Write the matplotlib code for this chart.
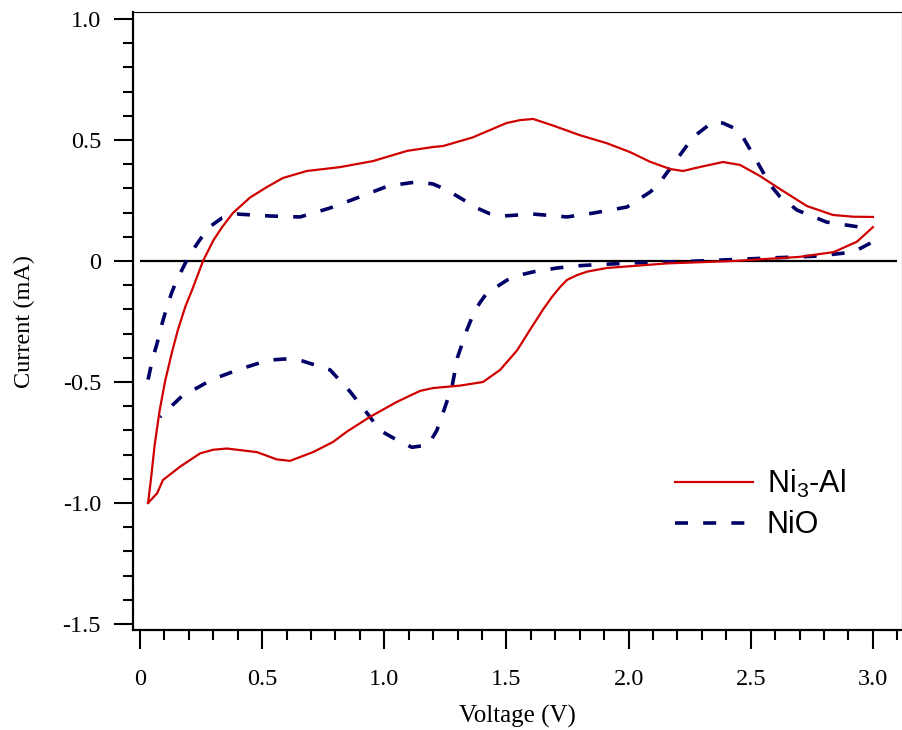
import matplotlib
matplotlib.use("Agg")
import matplotlib.pyplot as plt
from matplotlib.ticker import FixedLocator, FixedFormatter

plt.rcParams['font.family'] = ['Liberation Serif', 'DejaVu Serif']
plt.rcParams['mathtext.fontset'] = 'custom'
plt.rcParams['mathtext.rm'] = 'Liberation Sans'
plt.rcParams['mathtext.it'] = 'Liberation Sans'

# ==============================
# data (V, mA)
# ==============================
# Ni3-Al, cathodic sweep 3.0 V -> 0 V
nial_rev_v = [3.0, 2.935, 2.84, 2.70, 2.43, 2.157, 1.91, 1.83, 1.79, 1.748, 1.72,
              1.686, 1.65, 1.596, 1.543, 1.474, 1.404, 1.31, 1.2, 1.146, 1.05,
              0.94, 0.847, 0.79, 0.708, 0.614, 0.56, 0.479, 0.356, 0.30, 0.246,
              0.164, 0.094, 0.07, 0.033]
nial_rev_i = [0.14, 0.08, 0.037, 0.017, 0.0, -0.01, -0.029, -0.044, -0.058, -0.078, -0.107,
              -0.149, -0.20, -0.285, -0.37, -0.45, -0.50, -0.515, -0.525, -0.537, -0.583,
              -0.645, -0.705, -0.748, -0.79, -0.826, -0.82, -0.79, -0.775, -0.78, -0.795,
              -0.85, -0.905, -0.96, -1.0]
# Ni3-Al, anodic sweep 0 V -> 3.0 V
nial_fwd_v = [0.033, 0.045, 0.06, 0.08, 0.102, 0.13, 0.155, 0.185, 0.213, 0.258,
              0.30, 0.336, 0.38, 0.45, 0.52, 0.585, 0.683, 0.819, 0.954, 1.093,
              1.199, 1.24, 1.36, 1.43, 1.50, 1.555, 1.609, 1.69, 1.80, 1.91, 2.006,
              2.088, 2.17, 2.223, 2.29, 2.386, 2.456, 2.538, 2.62, 2.73, 2.837,
              2.92, 3.0]
nial_fwd_i = [-1.0, -0.90, -0.76, -0.62, -0.50, -0.38, -0.285, -0.19, -0.12, 0.0,
              0.085, 0.14, 0.198, 0.262, 0.306, 0.343, 0.372, 0.388, 0.413, 0.455,
              0.471, 0.475, 0.51, 0.54, 0.57, 0.582, 0.587, 0.56, 0.52, 0.487, 0.45,
              0.41, 0.38, 0.372, 0.388, 0.409, 0.397, 0.351, 0.297, 0.227, 0.19,
              0.183, 0.182]

# NiO, cathodic sweep
nio_rev_v = [2.99, 2.92, 2.77, 2.567, 2.29, 2.02, 1.855, 1.79, 1.707, 1.609, 1.555,
             1.502, 1.46, 1.42, 1.39, 1.363, 1.338, 1.30, 1.277, 1.24, 1.215,
             1.18, 1.113, 1.052, 0.982, 0.935, 0.86, 0.778, 0.655, 0.59, 0.524,
             0.40, 0.295, 0.17, 0.082]
nio_rev_i = [0.074, 0.037, 0.02, 0.012, 0.0, -0.008, -0.016, -0.02, -0.029, -0.045, -0.058,
             -0.079, -0.107, -0.132, -0.174, -0.223, -0.285, -0.397, -0.52, -0.628, -0.70,
             -0.76, -0.77, -0.74, -0.70, -0.636, -0.54, -0.45, -0.41, -0.405, -0.41,
             -0.45, -0.49, -0.56, -0.645]
# NiO, anodic sweep
nio_fwd_v = [0.033, 0.05, 0.07, 0.09, 0.11, 0.13, 0.15, 0.196, 0.225, 0.278, 0.336,
             0.397, 0.532, 0.655, 0.778, 0.90, 1.015, 1.134, 1.20, 1.257, 1.32,
             1.379, 1.43, 1.486, 1.609, 1.748, 1.855, 1.993, 2.088, 2.12, 2.19,
             2.264, 2.345, 2.386, 2.43, 2.468, 2.526, 2.58, 2.62, 2.69, 2.81,
             2.947, 2.99]
nio_fwd_i = [-0.49, -0.41, -0.34, -0.26, -0.19, -0.13, -0.08, 0.012, 0.058, 0.136, 0.178,
             0.194, 0.186, 0.182, 0.219, 0.265, 0.31, 0.327, 0.318, 0.293, 0.255,
             0.219, 0.196, 0.186, 0.194, 0.182, 0.198, 0.223, 0.285, 0.314, 0.41,
             0.512, 0.575, 0.57, 0.55, 0.512, 0.41, 0.314, 0.265, 0.21, 0.161,
             0.14, 0.13]

x_major = [0, 0.5, 1.0, 1.5, 2.0, 2.5, 3.0]
x_labels = ["0", "0.5", "1.0", "1.5", "2.0", "2.5", "3.0"]
y_major = [-1.5, -1.0, -0.5, 0, 0.5, 1.0]
y_labels = ["-1.5", "-1.0", "-0.5", "0", "0.5", "1.0"]
x_minor = [i / 10 for i in range(1, 32)]
y_minor = [i / 10 for i in range(-15, 11)]

red = "#d00000"
navy = "#000066"

# ==============================
# plot
# ==============================
fig = plt.figure(figsize=(9.03, 7.30), dpi=100)
ax = fig.add_axes([133 / 903, 100 / 730, 769 / 903, 618 / 730])

ax.hlines(0, 0, 3.1, color="black", linewidth=1.6, zorder=1)

ax.plot(nial_rev_v, nial_rev_i, color=red, linewidth=1.6, zorder=3)
ax.plot(nial_fwd_v, nial_fwd_i, color=red, linewidth=1.6, zorder=3, label="Ni$_3$-Al")
ax.plot(nio_rev_v, nio_rev_i, color=navy, linewidth=2.6, dashes=(3.6, 4.2), zorder=2)
ax.plot(nio_fwd_v, nio_fwd_i, color=navy, linewidth=2.6, dashes=(3.6, 4.2), zorder=2,
        label="NiO")

ax.set_xlim(-0.0287, 3.119)
ax.set_ylim(-1.525, 1.029)

ax.xaxis.set_major_locator(FixedLocator(x_major))
ax.xaxis.set_major_formatter(FixedFormatter(x_labels))
ax.yaxis.set_major_locator(FixedLocator(y_major))
ax.yaxis.set_major_formatter(FixedFormatter(y_labels))
ax.xaxis.set_minor_locator(FixedLocator(x_minor))
ax.yaxis.set_minor_locator(FixedLocator(y_minor))

ax.tick_params(which="major", direction="out", length=14, width=1.5, labelsize=17.5)
ax.tick_params(which="minor", direction="out", length=7.5, width=1.5)
ax.tick_params(axis="x", which="major", pad=14)
ax.tick_params(axis="y", which="major", pad=9)

ax.spines["left"].set_linewidth(1.6)
ax.spines["bottom"].set_linewidth(1.6)
ax.spines["top"].set_linewidth(0.8)
ax.spines["right"].set_linewidth(0.8)

ax.set_xlabel("Voltage (V)", fontsize=18, labelpad=11)
ax.set_ylabel("Current (mA)", fontsize=17.5, labelpad=20)

leg = ax.legend(loc="upper left", bbox_to_anchor=(0.705, 0.262), frameon=False,
                prop={"family": "Liberation Sans", "size": 22},
                handlelength=2.55, handletextpad=0.45, labelspacing=0.33,
                borderpad=0, borderaxespad=0)

fig.savefig("out.png", dpi=100)
